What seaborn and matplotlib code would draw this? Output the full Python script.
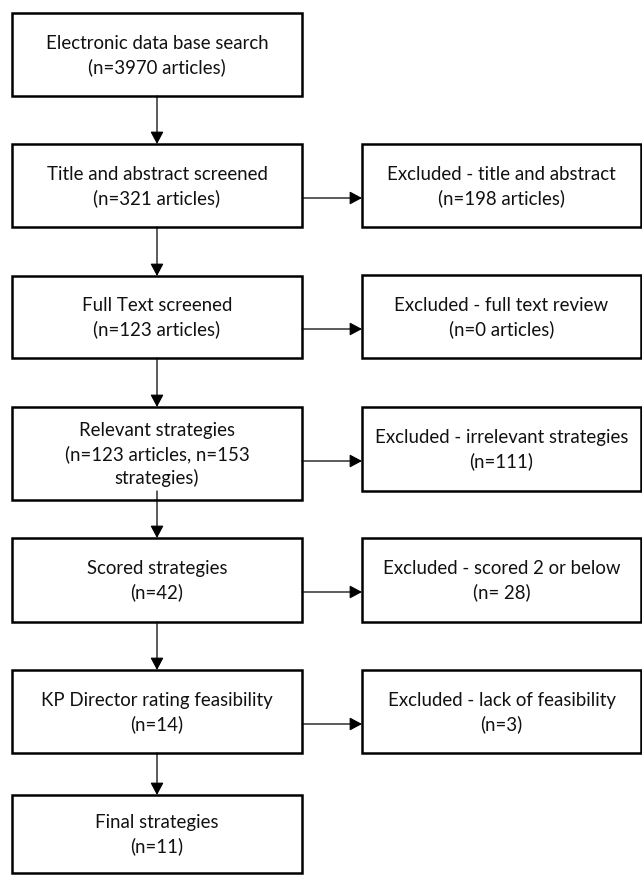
import matplotlib
matplotlib.use("Agg")
import matplotlib.pyplot as plt
import seaborn as sns

sns.set_style("white")
plt.rcParams['font.family'] = ['Lato', 'DejaVu Sans']

# ---- content ----
main_labels = [
    "Electronic data base search\n(n=3970 articles)",
    "Title and abstract screened\n(n=321 articles)",
    "Full Text screened\n(n=123 articles)",
    "Relevant strategies\n(n=123 articles, n=153\nstrategies)",
    "Scored strategies\n(n=42)",
    "KP Director rating feasibility\n(n=14)",
    "Final strategies\n(n=11)",
]
excluded_labels = [
    None,
    "Excluded - title and abstract\n(n=198 articles)",
    "Excluded - full text review\n(n=0 articles)",
    "Excluded - irrelevant strategies\n(n=111)",
    "Excluded - scored 2 or below\n(n= 28)",
    "Excluded - lack of feasibility\n(n=3)",
    None,
]

# ---- layout (pixels, y downward) ----
W, H = 642, 875
left_x = (12, 302)
right_x = (362, 641)
main_y = [(13, 96), (144, 227), (276, 358), (407, 500), (538, 622), (670, 753), (795, 873)]
excl_y = [None, (144, 227), (275, 358), (407, 491), (538, 622), (670, 753), None]
side_arrow_y = [None, 198, 329, 461, 592, 724, None]
down_start = [96, 227, 358, 491, 622, 753]

fig = plt.figure(figsize=(W / 100, H / 100), dpi=100)
ax = fig.add_axes([0, 0, 1, 1])
ax.set_xlim(0, W)
ax.set_ylim(H, 0)
ax.axis("off")

FS = 13.4

def box(x0, x1, y0, y1, text):
    ax.add_patch(plt.Rectangle((x0, y0), x1 - x0, y1 - y0, facecolor="white",
                               edgecolor="black", linewidth=1.8, joinstyle="miter",
                               zorder=2))
    ax.text((x0 + x1) / 2, (y0 + y1) / 2 + 1, text, ha="center", va="center",
            fontsize=FS, color="#111111", linespacing=1.42, zorder=4)

def arrow(x0, y0, x1, y1):
    ax.annotate("", xy=(x1, y1), xytext=(x0, y0),
                arrowprops=dict(arrowstyle="-|>,head_length=0.75,head_width=0.4",
                                mutation_scale=10, color="black", lw=0.9,
                                shrinkA=0, shrinkB=0), zorder=3)

cx = (left_x[0] + left_x[1]) / 2
for i, lab in enumerate(main_labels):
    box(left_x[0], left_x[1], main_y[i][0], main_y[i][1], lab)
    if excluded_labels[i] is not None:
        box(right_x[0], right_x[1], excl_y[i][0], excl_y[i][1], excluded_labels[i])
        arrow(left_x[1], side_arrow_y[i], right_x[0], side_arrow_y[i])
    if i < len(main_labels) - 1:
        arrow(cx, down_start[i], cx, main_y[i + 1][0])

fig.savefig("out.png", dpi=100, facecolor="white")
